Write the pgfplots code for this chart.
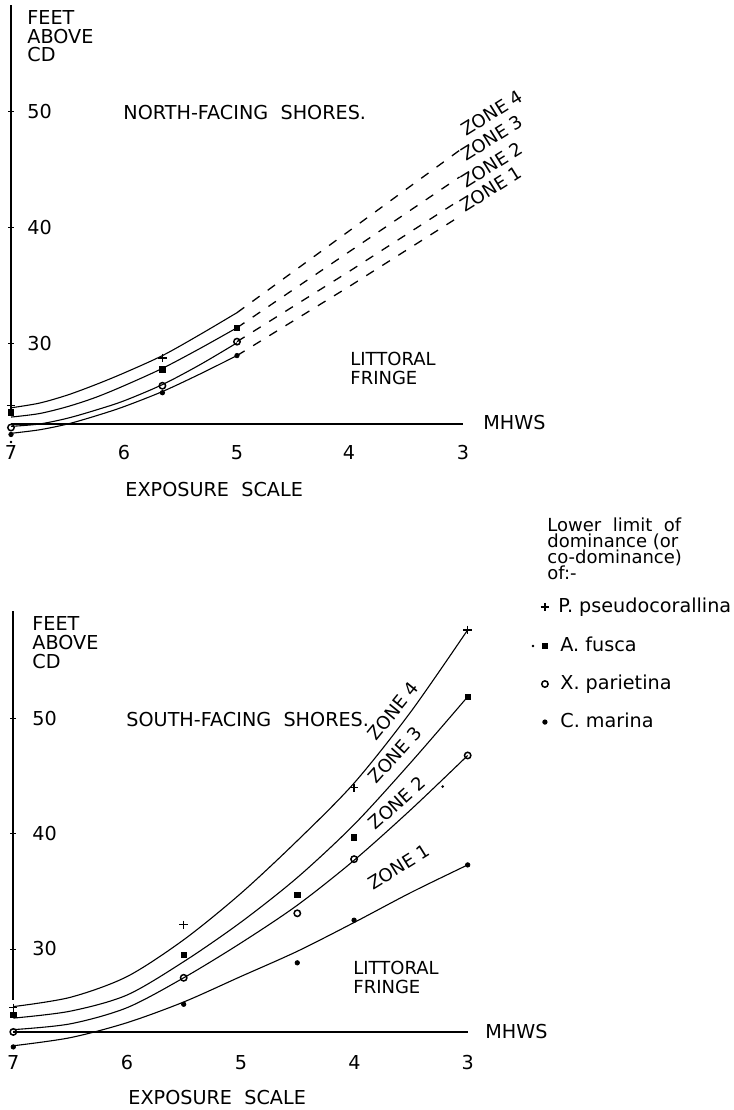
\documentclass[border=0pt]{standalone}
\usepackage{fontspec}
\setmainfont{DejaVu Sans}
\usepackage{pgfplots}
\pgfplotsset{compat=1.18}
\newcommand{\mainf}{\fontsize{9.6pt}{11pt}\selectfont}
\newcommand{\smf}{\fontsize{9pt}{10pt}\selectfont}
\newcommand{\T}[4][base west]{\node[inner sep=0pt,anchor=#1,font=\mainf] at ({#2*0.5pt},{(1110-#3)*0.5pt}) {#4};}
\newcommand{\Z}[4]{\node[inner sep=0pt,rotate=#3,font=\smf] at ({#1*0.5pt},{(1110-#2)*0.5pt}) {#4};}
\pgfplotsset{
  zone/.style={black, line width=0.55pt, smooth, no markers},
  dz/.style={black, line width=0.65pt, no markers, dash pattern=on 4.5pt off 5pt},
  mP/.style={only marks, mark=+, mark size=2.1pt, black, mark options={line width=0.6pt}},
  mA/.style={only marks, mark=square*, mark size=1.35pt, black},
  mX/.style={only marks, mark=o, mark size=1.6pt, black, mark options={line width=0.75pt}},
  mC/.style={only marks, mark=*, mark size=1.1pt, black},
  ax/.style={black, line width=0.8pt, no markers},
  tk/.style={black, line width=0.5pt, no markers},
  panel/.style={hide axis, scale only axis, anchor=south west, xmin=3, xmax=7,
    ymin=20, ymax=60, x dir=reverse, clip=false, enlargelimits=false},
}
\begin{document}
\begin{tikzpicture}
\path[use as bounding box] (0,0) rectangle (367pt,555pt);
% ---------------- NORTH-FACING ----------------
\begin{axis}[panel, width=226pt, height=232pt, at={(5.5pt,325pt)}]
\addplot[ax] coordinates {(7,24.9) (7,59.2)};
\addplot[tk] coordinates {(7.025,50) (6.975,50)};
\addplot[tk] coordinates {(7.025,40) (6.975,40)};
\addplot[tk] coordinates {(7.025,30) (6.975,30)};
\addplot[black, line width=0.6pt, no markers] coordinates {(7,23.1) (3,23.1)};
% zone 4
\addplot[zone] coordinates {(7,24.5) (6.75,24.9) (6.5,25.6) (6.25,26.5) (6,27.5) (5.66,29.0) (5.33,30.8) (5,32.7)};
\addplot[dz] coordinates {(5,32.7) (4,39.8) (3.03,46.7)};
% zone 3
\addplot[zone] coordinates {(7,23.7) (6.75,24.0) (6.5,24.6) (6.25,25.4) (6,26.4) (5.66,27.9) (5.33,29.6) (5,31.4)};
\addplot[dz] coordinates {(5,31.4) (4,38.0) (3.03,44.4)};
% zone 2
\addplot[zone] coordinates {(7,22.9) (6.75,23.1) (6.5,23.6) (6.25,24.3) (6,25.1) (5.66,26.5) (5.33,28.2) (5,30.1)};
\addplot[dz] coordinates {(5,30.2) (4,36.3) (3.03,42.4)};
% zone 1
\addplot[zone] coordinates {(7,22.3) (6.75,22.6) (6.5,23.1) (6.25,23.8) (6,24.6) (5.66,25.9) (5.33,27.4) (5,29.0)};
\addplot[dz] coordinates {(5,29.0) (4,35.0) (3.03,41.0)};
% observations
\addplot[mP] coordinates {(7,24.7) (5.66,28.8)};
\addplot[mA] coordinates {(7,24.1) (5.66,27.8) (5,31.4)};
\addplot[mX] coordinates {(7,22.8) (5.66,26.4) (5,30.2)};
\addplot[mC] coordinates {(7,22.2) (5.66,25.8) (5,29.0)};
\addplot[only marks, mark=*, mark size=0.45pt, black] coordinates {(7,21.55)};
\end{axis}
% ---------------- SOUTH-FACING ----------------
\begin{axis}[panel, width=227.2pt, height=230.4pt, at={(6.65pt,22.9pt)}]
\addplot[ax] coordinates {(7,25.6) (7,59.3)};
\addplot[tk] coordinates {(7.025,50) (6.975,50)};
\addplot[tk] coordinates {(7.025,40) (6.975,40)};
\addplot[tk] coordinates {(7.025,30) (6.975,30)};
\addplot[black, line width=0.6pt, no markers] coordinates {(7,22.8) (3,22.8)};
\addplot[zone] coordinates {(7,25.0) (6.5,25.8) (6,27.6) (5.5,30.8) (5,34.8) (4.5,39.4) (4,44.4) (3.5,50.6) (3,57.7)};
\addplot[zone] coordinates {(7,24.0) (6.5,24.6) (6,26.0) (5.5,28.9) (5,32.3) (4.5,36.2) (4,40.8) (3.5,46.2) (3,51.9)};
\addplot[zone] coordinates {(7,23.0) (6.5,23.5) (6,24.9) (5.5,27.5) (5,30.5) (4.5,33.8) (4,37.7) (3.5,42.1) (3,46.8)};
\addplot[zone] coordinates {(7,21.6) (6.5,22.3) (6,23.6) (5.5,25.4) (5,27.6) (4.5,29.8) (4,32.3) (3.5,34.9) (3,37.3)};
\addplot[mP] coordinates {(7,24.9) (5.5,32.1) (4,44.0) (3,57.7)};
\addplot[mA] coordinates {(7,24.3) (5.5,29.5) (4.5,34.7) (4,39.7) (3,51.9)};
\addplot[mX] coordinates {(7,22.8) (5.5,27.5) (4.5,33.1) (4,37.8) (3,46.8)};
\addplot[mC] coordinates {(7,21.5) (5.5,25.2) (4.5,28.8) (4,32.5) (3,37.3)};
\addplot[only marks, mark=*, mark size=0.45pt, black] coordinates {(3.22,44.1)};
% legend symbols
\addplot[mP] coordinates {(2.32,59.69)};
\addplot[mA] coordinates {(2.32,56.30)};
\addplot[only marks, mark=*, mark size=0.4pt, black] coordinates {(2.425,56.30)};
\addplot[mX] coordinates {(2.32,53.00)};
\addplot[mC] coordinates {(2.32,49.70)};
\end{axis}
% ---------------- texts, north ----------------
\T{27}{25}{FEET}
\T{27}{44}{ABOVE}
\T{27}{62}{CD}
\T{27}{119}{50}
\T{27}{235}{40}
\T{27}{351}{30}
\T{123}{120}{NORTH-FACING\hspace{0.64em}SHORES.}
\node[inner sep=0pt,anchor=base west,font=\smf] at ({350*0.5pt},{(1110-366)*0.5pt}) {LITTORAL};
\node[inner sep=0pt,anchor=base west,font=\smf] at ({350*0.5pt},{(1110-385)*0.5pt}) {FRINGE};
\T{483}{430}{MHWS}
\T[base]{11}{460}{7}
\T[base]{124}{460}{6}
\T[base]{237}{460}{5}
\T[base]{349}{460}{4}
\T[base]{463}{460}{3}
\T{125}{497}{EXPOSURE\hspace{0.64em}SCALE}
\Z{492}{113}{32}{ZONE 4}
\Z{492}{138}{32}{ZONE 3}
\Z{492}{165}{32}{ZONE 2}
\Z{491}{189}{32}{ZONE 1}
% ---------------- legend ----------------
\node[inner sep=0pt,anchor=base west,font=\smf] at ({547*0.5pt},{(1110-532)*0.5pt}) {Lower\ \ limit\ \ of};
\node[inner sep=0pt,anchor=base west,font=\smf] at ({547*0.5pt},{(1110-548)*0.5pt}) {dominance\ (or};
\node[inner sep=0pt,anchor=base west,font=\smf] at ({547*0.5pt},{(1110-564)*0.5pt}) {co-dominance)};
\node[inner sep=0pt,anchor=base west,font=\smf] at ({547*0.5pt},{(1110-580)*0.5pt}) {of:-};
\T{558}{613}{P.\ pseudocorallina}
\T{560}{652}{A. fusca}
\T{560}{690}{X. parietina}
\T{560}{728}{C. marina}
% ---------------- texts, south ----------------
\T{32}{631}{FEET}
\T{32}{650}{ABOVE}
\T{32}{669}{CD}
\T{32}{726}{50}
\T{32}{841}{40}
\T{32}{956}{30}
\T{126}{727}{SOUTH-FACING\hspace{0.64em}SHORES.}
\node[inner sep=0pt,anchor=base west,font=\smf] at ({353*0.5pt},{(1110-975)*0.5pt}) {LITTORAL};
\node[inner sep=0pt,anchor=base west,font=\smf] at ({353*0.5pt},{(1110-994)*0.5pt}) {FRINGE};
\T{485}{1039}{MHWS}
\T[base]{13.3}{1070}{7}
\T[base]{127}{1070}{6}
\T[base]{241}{1070}{5}
\T[base]{354.5}{1070}{4}
\T[base]{467.7}{1070}{3}
\T{128}{1105}{EXPOSURE\hspace{0.64em}SCALE}
\Z{393}{711}{51}{ZONE 4}
\Z{395}{755}{48}{ZONE 3}
\Z{397}{803}{42}{ZONE 2}
\Z{399}{867}{32}{ZONE 1}
\end{tikzpicture}
\end{document}
